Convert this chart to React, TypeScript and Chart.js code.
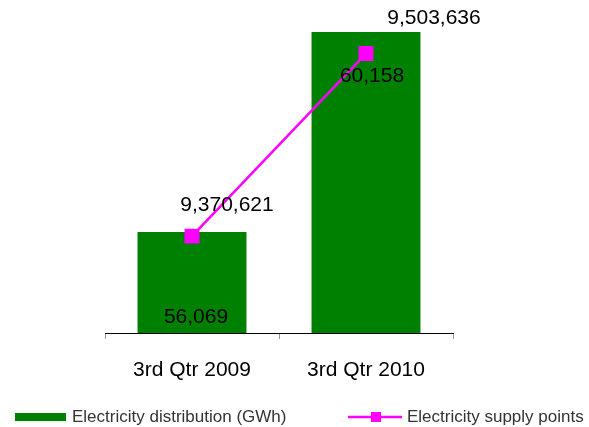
import React, { useEffect, useRef } from "react";
import { Chart, registerables } from "chart.js";

Chart.register(...registerables);

const categories = ["3rd Qtr 2009", "3rd Qtr 2010"];
const distributionGWh = [56069, 60158];
const supplyPoints = [9370621, 9503636];
const seriesNames = ["Electricity distribution (GWh)", "Electricity supply points"];

const GREEN = "#008000";
const MAGENTA = "#FF00FF";
const LABEL_FONT = "21px 'Liberation Sans', Arial, sans-serif";
const LEGEND_FONT = "17px 'Liberation Sans', Arial, sans-serif";

const fmt = (v: number) => v.toLocaleString("en-US");

const labelPlugin = {
  id: "customLabels",
  afterDatasetsDraw(chart: any) {
    const ctx = chart.ctx;
    ctx.save();
    ctx.font = LABEL_FONT;
    ctx.fillStyle = "#000";
    ctx.textAlign = "center";
    ctx.textBaseline = "middle";
    const barMeta = chart.getDatasetMeta(1);
    const lineMeta = chart.getDatasetMeta(0);
    const basePixel = chart.scales.y.bottom;
    const barOffsets = [
      { anchor: "base", dx: 4, dy: -16 },
      { anchor: "top", dx: 6, dy: 44 },
    ];
    const lineOffsets = [
      { dx: 35, dy: -31 },
      { dx: 68, dy: -35 },
    ];
    barMeta.data.forEach((el: any, i: number) => {
      const o = barOffsets[i];
      const y = o.anchor === "base" ? basePixel : el.y;
      ctx.fillText(fmt(distributionGWh[i]), el.x + o.dx, y + o.dy);
    });
    lineMeta.data.forEach((el: any, i: number) => {
      const o = lineOffsets[i];
      ctx.fillText(fmt(supplyPoints[i]), el.x + o.dx, el.y + o.dy);
    });
    ctx.restore();
  },
  afterDraw(chart: any) {
    const ctx = chart.ctx;
    ctx.save();
    ctx.font = LEGEND_FONT;
    ctx.textBaseline = "middle";
    ctx.textAlign = "left";
    const y = 417;
    ctx.fillStyle = GREEN;
    ctx.fillRect(15, y - 4, 51, 8);
    ctx.fillStyle = "#333";
    ctx.fillText(seriesNames[0], 72, y);
    ctx.strokeStyle = MAGENTA;
    ctx.lineWidth = 2.5;
    ctx.beginPath();
    ctx.moveTo(348, y);
    ctx.lineTo(402, y);
    ctx.stroke();
    ctx.fillStyle = MAGENTA;
    ctx.fillRect(376 - 5, y - 5, 10, 10);
    ctx.fillStyle = "#333";
    ctx.fillText(seriesNames[1], 407, y);
    ctx.restore();
  },
};

export default function App() {
  const ref = useRef<HTMLCanvasElement>(null);
  useEffect(() => {
    if (!ref.current) return;
    const chart = new Chart(ref.current, {
      type: "bar",
      data: {
        labels: categories,
        datasets: [
          {
            type: "line",
            label: seriesNames[1],
            data: supplyPoints,
            yAxisID: "y2",
            borderColor: MAGENTA,
            backgroundColor: MAGENTA,
            borderWidth: 2.5,
            pointStyle: "rect",
            pointRadius: 10.5,
            pointBorderWidth: 0,
            pointBackgroundColor: MAGENTA,
            order: 0,
          } as any,
          {
            type: "bar",
            label: seriesNames[0],
            data: distributionGWh,
            yAxisID: "y",
            backgroundColor: GREEN,
            borderWidth: 0,
            categoryPercentage: 1,
            barPercentage: 0.626,
            order: 1,
          },
        ],
      },
      options: {
        responsive: false,
        animation: false,
        devicePixelRatio: 1,
        layout: { padding: { left: 105, right: 136, top: 10, bottom: 44 } },
        plugins: { legend: { display: false }, tooltip: { enabled: false } },
        scales: {
          x: {
            offset: true,
            grid: {
              display: true,
              offset: true,
              drawOnChartArea: false,
              drawTicks: true,
              tickLength: 6,
              color: "#999",
            },
            border: { display: true, color: "#000", width: 1 },
            ticks: {
              color: "#000",
              font: { family: "'Liberation Sans', Arial, sans-serif", size: 21 },
              padding: 19,
              maxRotation: 0,
            },
            afterFit(scale: any) {
              scale.height = 50;
            },
          },
          y: { display: false, min: 54000, max: 60600 },
          y2: { display: false, min: 9300000, max: 9535000, position: "right" },
        },
      },
      plugins: [labelPlugin],
    });
    return () => chart.destroy();
  }, []);
  return (
    <div style={{ position: "fixed", left: 0, top: 0, width: 589, height: 427, background: "#fff" }}>
      <canvas ref={ref} width={589} height={427} style={{ width: 589, height: 427, display: "block" }} />
    </div>
  );
}
